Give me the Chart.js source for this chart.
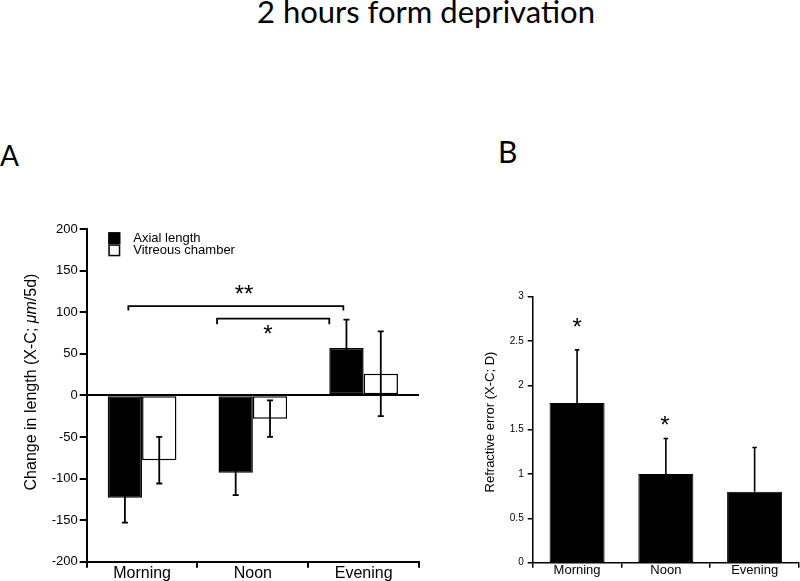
<!DOCTYPE html>
<html>
<head>
<meta charset="utf-8">
<title>2 hours form deprivation</title>
<script src="https://cdn.jsdelivr.net/npm/chart.js@4.4.1/dist/chart.umd.min.js"></script>
<style>
  html, body { margin: 0; padding: 0; background: #fff; }
  #page { position: relative; width: 800px; height: 581px; overflow: hidden; color: #000; font-family: Lato, 'Open Sans', sans-serif; }
  .lbl { position: absolute; white-space: nowrap; line-height: 1; }
  #title { left: 257px; top: -4px; font-size: 31px; }
  #panelA { left: 0px; top: 141px; font-size: 28px; }
  #panelB { left: 498px; top: 136px; font-size: 30px; }
  #boxA { position: absolute; left: 0; top: 200px; width: 430px; height: 381px; }
  #boxB { position: absolute; left: 440px; top: 270px; width: 360px; height: 311px; }
</style>
</head>
<body>
<div id="page">
  <div class="lbl" id="title">2 hours form deprivation</div>
  <div class="lbl" id="panelA">A</div>
  <div class="lbl" id="panelB">B</div>
  <div id="boxA"><canvas id="chartA"></canvas></div>
  <div id="boxB"><canvas id="chartB"></canvas></div>
</div>
<script>
/* Datos */
const categories = ['Morning', 'Noon', 'Evening'];

// Panel A: cambio de longitud (X-C; µm/5d)
const axialLength = [-123, -93, 57];
const axialErr = [30, 27, 34];
const vitreousChamber = [-78, -28, 26];
const vitreousErr = [28, 22, 51];

// Panel B: error refractivo (X-C; D)
const refractiveError = [1.8, 1.0, 0.8];
const refractiveErr = [0.6, 0.4, 0.5];

const AX = "'Liberation Sans', Arial, Helvetica, sans-serif";

// Barras de error (simétricas o sólo hacia arriba)
const errorBars = {
  id: 'errorBars',
  afterDatasetsDraw(chart, args, o) {
    const ctx = chart.ctx, ys = chart.scales.y;
    ctx.save();
    ctx.strokeStyle = '#000';
    ctx.lineWidth = o.lineWidth || 1.5;
    chart.data.datasets.forEach((ds, i) => {
      if (!ds.errors) return;
      chart.getDatasetMeta(i).data.forEach((bar, j) => {
        const v = ds.data[j], e = ds.errors[j];
        const hi = ys.getPixelForValue(v + e);
        const lo = ys.getPixelForValue(o.oneSided ? v : v - e);
        const c = (o.cap || 6) / 2;
        ctx.beginPath();
        ctx.moveTo(bar.x, lo); ctx.lineTo(bar.x, hi);
        ctx.moveTo(bar.x - c, hi); ctx.lineTo(bar.x + c, hi);
        if (!o.oneSided) { ctx.moveTo(bar.x - c, lo); ctx.lineTo(bar.x + c, lo); }
        ctx.stroke();
      });
    });
    ctx.restore();
  }
};

// Corchetes y asteriscos de significancia
const marks = {
  id: 'marks',
  afterDatasetsDraw(chart, args, o) {
    const ctx = chart.ctx, xs = chart.scales.x, ys = chart.scales.y;
    const cw = (xs.right - xs.left) / chart.data.labels.length;
    const px = (p) => xs.getPixelForValue(p[0]) + p[1] * cw;
    ctx.save();
    ctx.strokeStyle = '#000';
    ctx.fillStyle = '#000';
    ctx.lineWidth = 1.8;
    (o.brackets || []).forEach(b => {
      const x0 = px(b.from), x1 = px(b.to), y = ys.getPixelForValue(b.value);
      ctx.beginPath();
      ctx.moveTo(x0, y + b.drop); ctx.lineTo(x0, y); ctx.lineTo(x1, y); ctx.lineTo(x1, y + b.drop);
      ctx.stroke();
    });
    const size = o.starSize || 24;
    ctx.font = size + 'px ' + AX;
    ctx.textAlign = 'center';
    ctx.textBaseline = 'alphabetic';
    (o.stars || []).forEach(s => {
      ctx.fillText(s.text, px(s.at), ys.getPixelForValue(s.value) + 0.575 * size);
    });
    ctx.restore();
  }
};

// Título del eje Y (con tramos en cursiva)
const axisTitle = {
  id: 'axisTitle',
  afterDraw(chart, args, o) {
    const ctx = chart.ctx;
    ctx.save();
    ctx.translate(o.x, o.y);
    ctx.rotate(-Math.PI / 2);
    ctx.fillStyle = '#000';
    ctx.textAlign = 'left';
    ctx.textBaseline = 'middle';
    let total = 0;
    o.parts.forEach(p => { ctx.font = p.font; p.w = ctx.measureText(p.text).width; total += p.w; });
    let x = -total / 2;
    o.parts.forEach(p => { ctx.font = p.font; ctx.fillText(p.text, x, 0); x += p.w; });
    ctx.restore();
  }
};

// Leyenda dentro del área del gráfico A
const boxLegend = {
  id: 'boxLegend',
  afterDraw(chart, args, o) {
    const ctx = chart.ctx;
    ctx.save();
    ctx.font = '13px ' + AX;
    ctx.textBaseline = 'middle';
    ctx.fillStyle = '#000';
    chart.data.datasets.forEach((ds, i) => {
      const y = o.y + i * o.step;
      ctx.fillStyle = ds.backgroundColor;
      ctx.fillRect(o.x, y, 12, o.step);
      ctx.strokeStyle = '#000';
      ctx.lineWidth = 1.5;
      ctx.strokeRect(o.x + 0.75, y + 0.75, 10.5, o.step - 1.5);
      ctx.fillStyle = '#000';
      ctx.fillText(ds.label, o.x + 25, y + o.step / 2);
    });
    ctx.restore();
  }
};

Chart.defaults.font.family = AX;
Chart.defaults.color = '#000';

new Chart(document.getElementById('chartA'), {
  type: 'bar',
  data: {
    labels: categories,
    datasets: [
      { label: 'Axial length', data: axialLength, errors: axialErr, backgroundColor: '#000', borderColor: '#000', borderWidth: 1.5, borderSkipped: false },
      { label: 'Vitreous chamber', data: vitreousChamber, errors: vitreousErr, backgroundColor: '#fff', borderColor: '#000', borderWidth: 1.5, borderSkipped: false },
    ],
  },
  options: {
    responsive: true, maintainAspectRatio: false, animation: false,
    categoryPercentage: 0.62, barPercentage: 1,
    layout: { padding: { top: 29, right: 11, left: 0, bottom: 0 } },
    plugins: {
      legend: { display: false }, tooltip: { enabled: false },
      errorBars: { lineWidth: 1.8, cap: 6 },
      marks: {
        starSize: 24,
        brackets: [
          { from: [0, -0.124], to: [2, -0.183], value: 107.3, drop: 4.5 },
          { from: [1, -0.323], to: [2, -0.31], value: 92.2, drop: 5.7 },
        ],
        stars: [
          { text: '**', at: [1, -0.08], value: 129 },
          { text: '*', at: [1, 0.137], value: 81 },
        ],
      },
      axisTitle: {
        x: 31.7, y: 182,
        parts: [
          { text: 'Change in length (X-C; ', font: '16px ' + AX },
          { text: 'μm', font: 'italic 16px ' + AX },
          { text: '/5d)', font: '16px ' + AX },
        ],
      },
      boxLegend: { x: 108.3, y: 32.3, step: 12 },
    },
    scales: {
      x: {
        grid: { offset: true, drawOnChartArea: false, tickLength: 6, color: '#000', lineWidth: 2 },
        border: { color: '#000', width: 2 },
        ticks: { color: '#000', font: { size: 16 }, padding: -4, maxRotation: 0 },
        afterFit(s) { s.height = 19.3; },
      },
      y: {
        min: -200, max: 200,
        ticks: { stepSize: 50, color: '#000', font: { size: 13 }, padding: 2 },
        grid: { color: c => (c.tick && c.tick.value === 0 ? '#000' : 'rgba(0,0,0,0)'), tickColor: '#000', lineWidth: 2, tickLength: 7 },
        border: { color: '#000', width: 2 },
        afterFit(s) { s.width = 86.7; },
      },
    },
  },
  plugins: [errorBars, marks, axisTitle, boxLegend],
});

new Chart(document.getElementById('chartB'), {
  type: 'bar',
  data: {
    labels: categories,
    datasets: [
      { label: 'Refractive error', data: refractiveError, errors: refractiveErr, backgroundColor: '#000', borderColor: '#000', borderWidth: 1, borderSkipped: false },
    ],
  },
  options: {
    responsive: true, maintainAspectRatio: false, animation: false,
    categoryPercentage: 0.62, barPercentage: 1,
    layout: { padding: { top: 26.7, right: 1, left: 0, bottom: 0 } },
    plugins: {
      legend: { display: false }, tooltip: { enabled: false },
      errorBars: { lineWidth: 1.6, cap: 4.5, oneSided: true },
      marks: {
        starSize: 24,
        stars: [
          { text: '*', at: [0, 0], value: 2.72 },
          { text: '*', at: [1, -0.01], value: 1.62 },
        ],
      },
      axisTitle: {
        x: 50.7, y: 152,
        parts: [{ text: 'Refractive error (X-C; D)', font: '13px ' + AX }],
      },
    },
    scales: {
      x: {
        grid: { offset: true, drawOnChartArea: false, tickLength: 5, color: '#000', lineWidth: 1.5 },
        border: { color: '#000', width: 1.5 },
        ticks: { color: '#000', font: { size: 13 }, padding: -5, maxRotation: 0 },
        afterFit(s) { s.height = 18.3; },
      },
      y: {
        min: 0, max: 3,
        ticks: { stepSize: 0.5, color: '#000', font: { size: 10 }, padding: 4, callback: v => String(+v.toFixed(1)) },
        grid: { drawOnChartArea: false, tickColor: '#000', lineWidth: 1.5, tickLength: 5 },
        border: { color: '#000', width: 1.5 },
        afterFit(s) { s.width = 92.7; },
      },
    },
  },
  plugins: [errorBars, marks, axisTitle],
});
</script>
</body>
</html>
